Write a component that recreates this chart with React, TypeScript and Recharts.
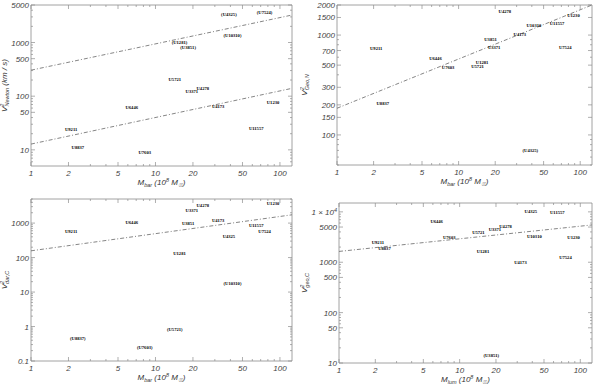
import React from "react";
import { ScatterChart, Scatter, XAxis, YAxis, ReferenceArea } from "recharts";

const galaxies = [
  "U9211", "U8837", "U6446", "U7603", "U5721", "U1281", "U3851", "U3371",
  "U4278", "U4173", "U4325", "U10310", "U11557", "U7524", "U1230",
];
const mass = [2.1, 2.38, 6.45, 8.2, 14.3, 15.6, 18.3, 19.6, 24.0, 31.9, 38.9, 41.6, 64.5, 75.3, 88];

const vNewton = [24.2, 11.2, 62, 9.1, 204, 990, 810, 122, 140, 64.6, 3270, 1350, 25.3, 3600, 76.5];
const vGeoN = [738, 205, 586, 476, 485, 530, 907, 755, 1742, 1025, 70, 1262, 1312, 755, 1590];
const vDarC = [586, 0.46, 1040, 0.25, 0.85, 135, 1000, 2320, 3170, 1190, 409, 18.2, 875, 586, 3800];
const vGeoC = [2510, 1850, 6600, 3080, 3980, 1660, 14, 4440, 5180, 986, 10000, 3260, 9550, 1260, 3080];

const negNewton = ["U1281", "U3851", "U4325", "U10310", "U7524"];
const negGeoN = ["U4325"];
const negDarC = ["U8837", "U7603", "U5721", "U10310"];
const negGeoC = ["U3851"];

const fitMass = [1, 125];
const fitNewtonUpper = [305, 3250];
const fitNewtonLower = [12.8, 140];
const fitGeoN = [185, 2000];
const fitDarC = [157, 1740];
const fitGeoC = [1640, 5500];

const xDomain = [1, 125];
const xTicks = [1, 2, 3, 4, 5, 6, 7, 8, 9, 10, 20, 30, 40, 50, 60, 70, 80, 90, 100];
const xLabeled = [1, 2, 5, 10, 20, 50, 100];

const yTicksNewton = [6, 7, 8, 9, 10, 20, 30, 40, 50, 60, 70, 80, 90, 100, 200, 300, 400, 500, 600, 700, 800, 900, 1000, 2000, 3000, 4000, 5000];
const yLabNewton = [10, 50, 100, 500, 1000, 5000];
const yTicksGeoN = [50, 60, 70, 80, 90, 100, 150, 200, 300, 400, 500, 600, 700, 800, 900, 1000, 1500, 2000];
const yLabGeoN = [100, 150, 200, 300, 500, 700, 1000, 1500, 2000];
const yTicksDarC = [0.1, 0.2, 0.3, 0.4, 0.5, 0.6, 0.7, 0.8, 0.9, 1, 2, 3, 4, 5, 6, 7, 8, 9, 10, 20, 30, 40, 50, 60, 70, 80, 90, 100, 200, 300, 400, 500, 600, 700, 800, 900, 1000, 2000, 3000, 4000, 5000];
const yLabDarC = [0.1, 1, 10, 100, 1000];
const yTicksGeoC = [10, 20, 30, 40, 50, 60, 70, 80, 90, 100, 200, 300, 400, 500, 600, 700, 800, 900, 1000, 2000, 3000, 4000, 5000, 6000, 7000, 8000, 9000, 10000];
const yLabGeoC = [10, 50, 100, 500, 1000, 5000, 10000];

const FRAME = "#8c8c8c";
const TICK_FONT = "'Liberation Sans', Arial, sans-serif";

type Geo = { left: number; right: number; top: number; bottom: number };

const xTick = (geo: Geo) => (props: any) => {
  const { x, payload } = props;
  const major = xLabeled.includes(payload.value);
  const len = major ? 4 : 2;
  return (
    <g>
      <line x1={x} x2={x} y1={geo.bottom} y2={geo.bottom - len} stroke={FRAME} strokeWidth={0.7} />
      <line x1={x} x2={x} y1={geo.top} y2={geo.top + len} stroke={FRAME} strokeWidth={0.7} />
      {major && (
        <text x={x} y={geo.bottom + 9.5} textAnchor="middle" fontSize={8} fontStyle="italic" fill="#444" fontFamily={TICK_FONT}>
          {payload.value}
        </text>
      )}
    </g>
  );
};

const yTick = (geo: Geo, labeled: number[], fmt?: (v: number) => React.ReactNode) => (props: any) => {
  const { y, payload } = props;
  const major = labeled.includes(payload.value);
  const len = major ? 4 : 2;
  return (
    <g>
      <line x1={geo.left} x2={geo.left + len} y1={y} y2={y} stroke={FRAME} strokeWidth={0.7} />
      <line x1={geo.right} x2={geo.right - len} y1={y} y2={y} stroke={FRAME} strokeWidth={0.7} />
      {major && (
        <text x={geo.left - 2} y={y + 3} textAnchor="end" fontSize={8} fontStyle="italic" fill="#444" fontFamily={TICK_FONT}>
          {fmt ? fmt(payload.value) : payload.value}
        </text>
      )}
    </g>
  );
};

const labelShape = (p: any) => (
  <text x={p.cx} y={p.cy + 1.6} textAnchor="middle" fontSize={4.6} fill="#000" fontFamily="'Liberation Serif', serif" fontWeight="bold">
    {p.payload.name}
  </text>
);

interface PanelProps {
  left: number;
  top: number;
  geo: Geo;
  yDomain: number[];
  yTicks: number[];
  yLabeled: number[];
  yFmt?: (v: number) => React.ReactNode;
  values: number[];
  negatives: string[];
  fits: number[][];
  ySub: string;
  yUnit?: string;
  xSub: string;
}

function Panel({ left, top, geo, yDomain, yTicks, yLabeled, yFmt, values, negatives, fits, ySub, yUnit, xSub }: PanelProps) {
  const data = galaxies.map((g, i) => ({
    m: mass[i],
    v: values[i],
    name: negatives.includes(g) ? `(${g})` : g,
  }));
  const fitData = fits.map((f) => fitMass.map((m, i) => ({ m, v: f[i] })));
  const cx = (geo.left + geo.right) / 2;
  const cy = (geo.top + geo.bottom) / 2;

  return (
    <div style={{ position: "absolute", left, top, width: 300, height: 192 }}>
      <ScatterChart width={300} height={192} margin={{ top: geo.top, right: 300 - geo.right, left: 0, bottom: 0 }}>
        <XAxis
          dataKey="m"
          type="number"
          scale="log"
          domain={xDomain}
          allowDataOverflow
          ticks={xTicks}
          interval={0}
          tick={xTick(geo)}
          tickLine={false}
          axisLine={false}
          height={192 - geo.bottom}
          label={{
            content: () => (
              <text x={cx} y={geo.bottom + 19} textAnchor="middle" fontSize={8} fontStyle="italic" fill="#333" fontFamily={TICK_FONT}>
                M<tspan fontSize={5.5} dy={2}>{xSub}</tspan>
                <tspan dy={-2}> (10</tspan>
                <tspan fontSize={5.5} dy={-3}>8</tspan>
                <tspan dy={3}> M</tspan>
                <tspan fontSize={5.5} dy={2}>☉</tspan>
                <tspan dy={-2}>)</tspan>
              </text>
            ),
          }}
        />
        <YAxis
          dataKey="v"
          type="number"
          scale="log"
          domain={yDomain}
          allowDataOverflow
          ticks={yTicks}
          interval={0}
          tick={yTick(geo, yLabeled, yFmt)}
          tickLine={false}
          axisLine={false}
          width={geo.left}
          label={{
            content: () => (
              <text
                x={7}
                y={cy}
                transform={`rotate(-90 7 ${cy})`}
                textAnchor="middle"
                fontSize={8}
                fontStyle="italic"
                fill="#333"
                fontFamily={TICK_FONT}
              >
                V<tspan fontSize={5.5} dy={-3}>2</tspan>
                <tspan fontSize={5.5} dx={-3} dy={5}>{ySub}</tspan>
                {yUnit ? <tspan dy={-2}>{yUnit}</tspan> : null}
              </text>
            ),
          }}
        />
        <ReferenceArea x1={xDomain[0]} x2={xDomain[1]} y1={yDomain[0]} y2={yDomain[1]} fill="none" stroke={FRAME} strokeWidth={0.8} />
        {fitData.map((d, i) => (
          <Scatter
            key={i}
            data={d}
            line={{ stroke: "#666", strokeWidth: 0.8, strokeDasharray: "4 2 1 2" }}
            shape={() => <g />}
            isAnimationActive={false}
          />
        ))}
        <Scatter data={data} shape={labelShape} isAnimationActive={false} />
      </ScatterChart>
    </div>
  );
}

export default function App() {
  return (
    <div style={{ position: "absolute", left: 0, top: 0, width: 600, height: 384, background: "#fff" }}>
      <Panel
        left={0}
        top={0}
        geo={{ left: 31, right: 292, top: 5, bottom: 166 }}
        yDomain={[5, 5000]}
        yTicks={yTicksNewton}
        yLabeled={yLabNewton}
        values={vNewton}
        negatives={negNewton}
        fits={[fitNewtonUpper, fitNewtonLower]}
        ySub="Newton"
        yUnit=" (km / s)"
        xSub="bar"
      />
      <Panel
        left={300}
        top={0}
        geo={{ left: 37, right: 292, top: 5, bottom: 165 }}
        yDomain={[50, 2000]}
        yTicks={yTicksGeoN}
        yLabeled={yLabGeoN}
        values={vGeoN}
        negatives={negGeoN}
        fits={[fitGeoN]}
        ySub="Geo,N"
        xSub="bar"
      />
      <Panel
        left={0}
        top={192}
        geo={{ left: 31, right: 292, top: 7, bottom: 169 }}
        yDomain={[0.1, 5000]}
        yTicks={yTicksDarC}
        yLabeled={yLabDarC}
        values={vDarC}
        negatives={negDarC}
        fits={[fitDarC]}
        ySub="dar,C"
        xSub="bar"
      />
      <Panel
        left={300}
        top={192}
        geo={{ left: 39, right: 292, top: 11, bottom: 171 }}
        yDomain={[10, 15000]}
        yTicks={yTicksGeoC}
        yLabeled={yLabGeoC}
        yFmt={(v) =>
          v === 10000 ? (
            <>
              1 × 10<tspan fontSize={5.5} dy={-3}>4</tspan>
            </>
          ) : (
            v
          )
        }
        values={vGeoC}
        negatives={negGeoC}
        fits={[fitGeoC]}
        ySub="geo,C"
        xSub="lum"
      />
    </div>
  );
}
